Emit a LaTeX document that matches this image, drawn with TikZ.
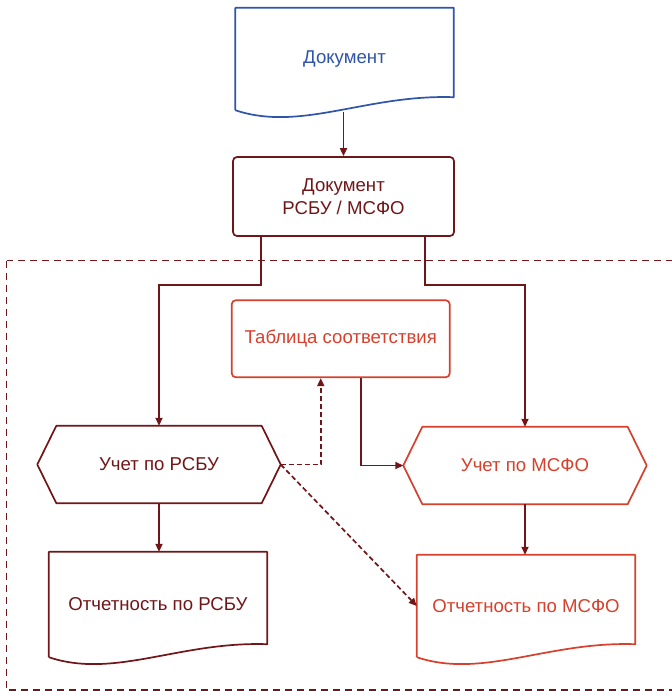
\documentclass[tikz,border=0pt]{standalone}
\usepackage{fontspec}
\setmainfont{Liberation Sans}
\usepackage{tikz}
\usetikzlibrary{arrows.meta,calc,positioning}
\definecolor{darkline}{RGB}{112,22,24}
\definecolor{ifrsred}{RGB}{214,64,44}
\definecolor{docblue}{RGB}{47,84,170}
\tikzset{
  boxtext/.style={font=\fontsize{18.6}{23}\selectfont,align=center,inner sep=0pt},
  docshape/.style={boxtext,minimum width=218pt},
  hexshape/.style={boxtext,minimum width=243pt,minimum height=77pt},
  flowarr/.style={draw=darkline,line width=1.7pt,-{Triangle[length=8pt,width=7pt]}},
  dasharr/.style={flowarr,dash pattern=on 5pt off 3pt},
}
% outline of a document symbol with a wavy bottom
\newcommand{\docoutline}[2]{%
  \draw[#2,line width=1.7pt,line join=round] (#1.south west) -- (#1.north west) -- (#1.north east)
    -- ($(#1.south east)+(0,-13)$)
    .. controls ($(#1.south west)!0.6!(#1.south east)+(0,-16)$) and ($(#1.south west)!0.3!(#1.south east)+(0,22)$)
    .. (#1.south west);%
}
% outline of a hexagon round a node
\newcommand{\hexoutline}[2]{%
  \draw[#2,line width=1.7pt,line join=round] (#1.west) -- ([xshift=19pt]#1.north west) -- ([xshift=-19pt]#1.north east)
    -- (#1.east) -- ([xshift=-19pt]#1.south east) -- ([xshift=19pt]#1.south west) -- cycle;%
}

\begin{document}
\begin{tikzpicture}[x=1pt,y=-1pt]
  \clip (0,0) rectangle (672,691);
  \fill[white] (0,0) rectangle (672,691);
  \draw[darkline,line width=1.3pt,dash pattern=on 7pt off 5pt] (6.5,260.5) rectangle (690,690);

  \node[docshape,minimum height=102pt,text=docblue] (doc) at (344.5,59) {Документ};
  \docoutline{doc}{docblue}
  \node[boxtext,minimum width=221pt,minimum height=79pt,draw=darkline,line width=1.7pt,rounded corners=4pt,text=darkline] (book) at (343.5,196.5) {Документ\\РСБУ / МСФО};
  \node[boxtext,minimum width=218pt,minimum height=77pt,draw=ifrsred,line width=1.7pt,rounded corners=4pt,text=ifrsred] (table) at (340.75,338.75) {Таблица соответствия};

  \node[hexshape,text=darkline] (rsbu) at (159,464.5) {Учет по РСБУ};
  \hexoutline{rsbu}{darkline}
  \node[hexshape,text=ifrsred] (msfo) at (525,465.5) {Учет по МСФО};
  \hexoutline{msfo}{ifrsred}

  \node[docshape,minimum height=105pt,text=darkline] (rsburep) at (158,604.5) {Отчетность по РСБУ};
  \docoutline{rsburep}{darkline}
  \node[docshape,minimum height=102pt,text=ifrsred] (msforep) at (526,606) {Отчетность по МСФО};
  \docoutline{msforep}{ifrsred}

  \draw[flowarr] ([yshift=-2pt]doc.south -| book.north) -- (book.north);
  \draw[flowarr] ([xshift=29pt]book.south west) -- ++(0,48) -| (rsbu.north);
  \draw[flowarr] ([xshift=-30pt]book.south east) -- ++(0,48) -| (msfo.north);
  \draw[flowarr] ([xshift=20pt]table.south) |- (msfo.west);
  \draw[dasharr] (rsbu.east) -| ([xshift=-20pt]table.south);
  \draw[dasharr] (rsbu.east) -- (msforep.west);
  \draw[flowarr,line width=2.3pt] (rsbu.south) -- (rsbu.south |- rsburep.north);
  \draw[flowarr] (msfo.south) -- (msfo.south |- msforep.north);
\end{tikzpicture}
\end{document}
